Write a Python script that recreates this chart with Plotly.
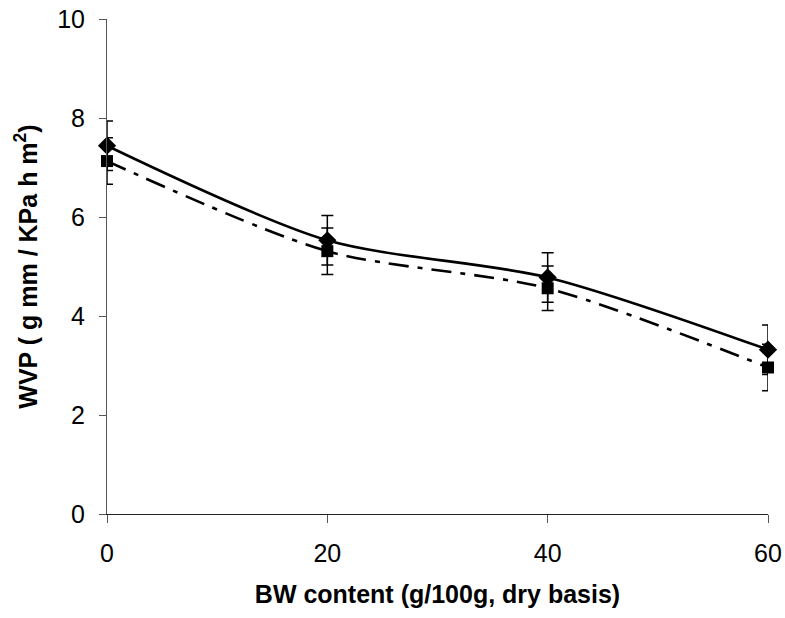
import plotly.graph_objects as go

bw_content = [0, 20, 40, 60]
wvp_diamond = [7.44, 5.53, 4.78, 3.32]
err_diamond = [0.5, 0.5, 0.5, 0.5]
wvp_square = [7.13, 5.31, 4.56, 2.96]
err_square = [0.47, 0.47, 0.45, 0.47]

x_ticks = [0, 20, 40, 60]
y_ticks = [0, 2, 4, 6, 8, 10]

fig = go.Figure()

fig.add_trace(go.Scatter(
    x=bw_content, y=wvp_square,
    mode="lines+markers",
    line=dict(color="black", width=2.6, shape="spline", smoothing=0.8, dash="20px,9px,5px,9px"),
    marker=dict(symbol="square", size=12, color="black"),
    error_y=dict(type="data", array=err_square, visible=True, color="black", thickness=1.5, width=6),
    showlegend=False, cliponaxis=False,
))
fig.add_trace(go.Scatter(
    x=bw_content, y=wvp_diamond,
    mode="lines+markers",
    line=dict(color="black", width=2.6, shape="spline", smoothing=0.8),
    marker=dict(symbol="diamond", size=14, color="black"),
    error_y=dict(type="data", array=err_diamond, visible=True, color="black", thickness=1.5, width=6),
    showlegend=False, cliponaxis=False,
))

fig.update_layout(
    width=785, height=618,
    margin=dict(l=107, r=17, t=19, b=104, autoexpand=False),
    paper_bgcolor="white", plot_bgcolor="white",
    font=dict(family="Liberation Sans, Arial, sans-serif", color="black"),
)
fig.update_xaxes(
    range=[0, 60], tickvals=x_ticks, ticktext=[str(v) for v in x_ticks],
    showline=True, linecolor="#222", linewidth=1, automargin=False,
    ticks="outside", ticklen=8, tickcolor="#555", tickwidth=1,
    showgrid=False, zeroline=False, ticklabeloverflow="allow",
    tickfont=dict(size=25), ticklabelstandoff=9,
    title=dict(text="<b>BW content (g/100g, dry basis)</b>", font=dict(size=25), standoff=19),
)
fig.update_yaxes(
    range=[0, 10], tickvals=y_ticks, ticktext=[str(v) for v in y_ticks],
    showline=True, linecolor="#555", linewidth=1, automargin=False,
    ticks="outside", ticklen=7, tickcolor="#555", tickwidth=1,
    showgrid=False, zeroline=False, ticklabeloverflow="allow",
    tickfont=dict(size=25), ticklabelstandoff=9,
    title=dict(text="<b>WVP ( g mm / KPa h m<sup>2</sup>)</b>", font=dict(size=25), standoff=12),
)

fig.write_html(
    "out.html",
    config={"displayModeBar": False},
    post_script="document.body.style.margin='0';document.body.style.overflow='hidden';",
)
